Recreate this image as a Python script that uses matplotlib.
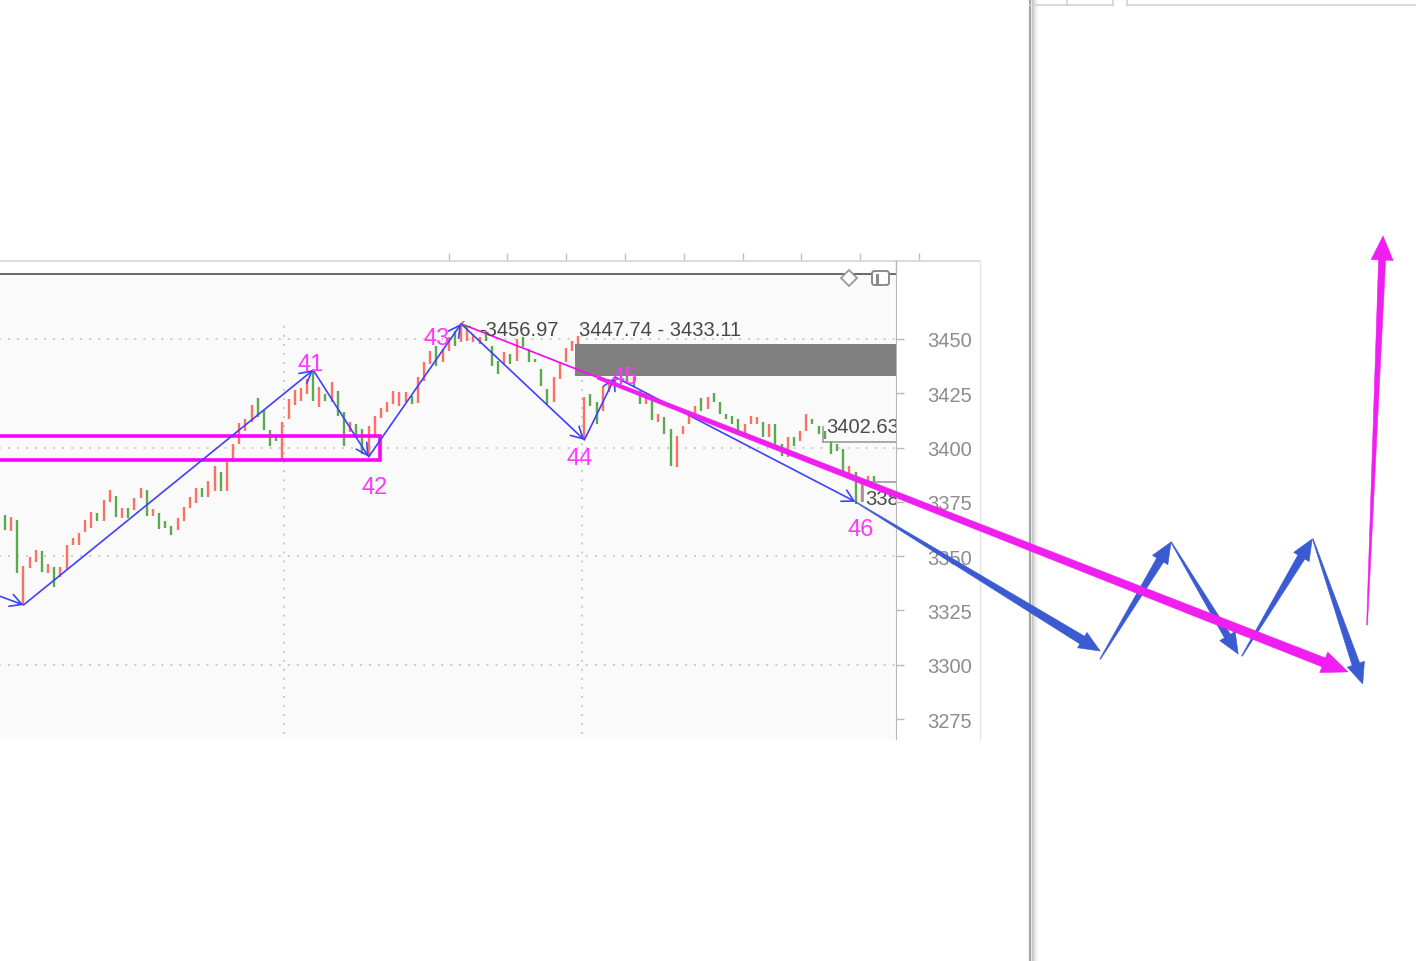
import numpy as np
import matplotlib
matplotlib.use("Agg")
import matplotlib.pyplot as plt
from matplotlib.patches import Rectangle, Polygon, FancyBboxPatch

plt.rcParams['font.family'] = ['Liberation Sans', 'DejaVu Sans']

W, H = 1416, 962

# ---- range bars (high / low per period), r = red bar, g = green bar ----
highs = [3369.0, 3368.1, 3366.7, 3345.4, 3349.6, 3352.8, 3352.4, 3346.4, 3344.9, 3344.9,
         3355.1, 3358.4, 3360.7, 3366.7, 3370.3, 3369.9, 3375.9, 3380.5, 3377.7, 3372.2,
         3372.2, 3376.8, 3381.4, 3380.5, 3371.7, 3369.9, 3366.2, 3363.9, 3367.6, 3372.6,
         3377.2, 3381.4, 3381.4, 3384.6, 3391.5, 3388.8, 3393.4, 3401.6, 3411.3, 3413.2,
         3419.6, 3422.8, 3417.3, 3408.1, 3405.3, 3411.8, 3422.4, 3426.5, 3427.4, 3431.6,
         3435.7, 3427.9, 3424.7, 3430.2, 3426.1, 3416.4, 3411.8, 3410.9, 3408.6, 3409.9,
         3414.5, 3418.2, 3421.0, 3426.1, 3425.6, 3425.6, 3423.8, 3432.5, 3439.4, 3444.5,
         3446.8, 3445.4, 3450.9, 3453.7, 3457.0, 3455.5, 3452.3, 3450.9, 3453.7, 3446.8,
         3439.9, 3444.0, 3443.1, 3450.0, 3450.9, 3445.4, 3440.8, 3436.2, 3427.0, 3432.5,
         3439.4, 3445.9, 3449.1, 3451.4, 3423.3, 3424.7, 3421.0, 3428.4, 3431.6, 3432.5,
         3433.0, 3433.0, 3432.5, 3426.1, 3424.7, 3422.4, 3415.5, 3414.1, 3408.6, 3405.3,
         3409.9, 3414.5, 3419.1, 3422.8, 3423.3, 3425.1, 3421.0, 3415.5, 3414.5, 3413.2,
         3410.9, 3414.5, 3414.1, 3411.8, 3410.9, 3410.9, 3401.6, 3404.9, 3404.9, 3407.6,
         3415.5, 3413.2, 3409.9, 3407.6, 3403.0, 3401.6, 3399.3, 3391.5, 3388.8, 3384.2,
         3386.9, 3386.9]
lows = [3362.0, 3361.6, 3342.2, 3327.5, 3344.5, 3347.3, 3342.7, 3342.2, 3335.8, 3340.4,
        3344.1, 3355.1, 3355.1, 3361.1, 3363.0, 3366.2, 3366.2, 3374.9, 3368.1, 3367.6,
        3367.6, 3371.3, 3376.8, 3368.5, 3368.5, 3362.5, 3363.0, 3359.7, 3362.0, 3366.2,
        3372.2, 3374.5, 3377.2, 3377.2, 3380.0, 3380.0, 3380.0, 3393.4, 3401.6, 3407.6,
        3411.8, 3414.1, 3408.1, 3400.7, 3403.0, 3394.7, 3413.2, 3419.6, 3421.5, 3424.7,
        3421.5, 3418.7, 3421.5, 3421.0, 3414.5, 3400.7, 3407.2, 3404.9, 3397.0, 3395.7,
        3405.3, 3413.6, 3416.4, 3420.1, 3419.1, 3421.0, 3420.1, 3420.5, 3430.7, 3438.5,
        3437.6, 3439.4, 3444.5, 3446.8, 3448.6, 3449.1, 3448.6, 3447.7, 3449.1, 3437.6,
        3433.9, 3438.5, 3438.5, 3439.9, 3446.3, 3439.4, 3439.4, 3428.4, 3420.1, 3421.0,
        3431.6, 3439.4, 3444.5, 3446.8, 3403.5, 3419.1, 3410.9, 3416.8, 3425.6, 3427.9,
        3429.3, 3429.3, 3427.9, 3420.1, 3420.1, 3412.7, 3411.8, 3406.3, 3391.5, 3391.1,
        3406.3, 3410.9, 3415.5, 3416.8, 3417.8, 3421.0, 3415.5, 3413.2, 3410.9, 3406.3,
        3406.3, 3410.9, 3410.9, 3404.9, 3404.9, 3401.6, 3396.1, 3395.7, 3400.7, 3403.0,
        3407.6, 3410.9, 3406.3, 3404.0, 3397.0, 3398.4, 3387.9, 3387.9, 3374.0, 3374.9,
        3383.2, 3384.2]
colours = ("grgrrrgrgr" "rrrrrgrrgr" "grrgrgggrr" "rrgrrgrrrr" "rggggrrrrr"
           "grgrggrggr" "rrrrrrgrrr" "grrgrrrrgg" "grgrgggggr" "rrrrrggrrr"
           "ggggrgrggr" "rrrgrggggg" "rrrgrggrgr" "rggggggrgr" "rg")

# ---- zigzag pivots ----
piv_i = [-4, 3, 50, 59, 74, 94, 99, 138]
piv_p = [3334.9, 3327.5, 3435.7, 3395.7, 3456.97, 3403.5, 3432.5, 3375.0]
piv_lab = ['', '', '41', '42', '43', '44', '45', '46']

price_ticks = [3275, 3300, 3325, 3350, 3375, 3400, 3425, 3450]
grid_prices = [3300, 3350, 3400, 3450]
grid_bars = [45.3, 93.6]
time_ticks = [72.0, 81.5, 91.0, 100.6, 110.2, 119.7, 129.2, 138.7, 148.3]

zone_hi, zone_lo, zone_from = 3447.74, 3433.11, 92.5
pink_hi, pink_lo, pink_to = 3405.3, 3394.3, 60.8
tag_a, tag_a_from = 3402.63, 132.7
tag_b, tag_b_from = 3384.21, 139.2

# hand-drawn arrows (bar index, price)
blue_from = [(138, 3375.0), (177.7, 3302.6), (189.2, 3356.5), (200.7, 3304.0), (212.2, 3357.9)]
blue_to = [(177.7, 3306.3), (189.2, 3356.5), (200.1, 3304.9), (212.1, 3357.9), (220.3, 3291.1)]
pink_to_pt = (217.9, 3296.7)
pink_up_from, pink_up_to = (221.0, 3318.3), (223.6, 3497.4)

RED, GREEN = '#ff7064', '#58aa4a'
MAG = '#ff00ff'
ZZ = '#4040ff'
SK_BLUE, SK_PINK = '#3b5bd3', '#f01ef0'

fig = plt.figure(figsize=(W / 100, H / 100), dpi=100)
fig.patch.set_facecolor('white')

ax = fig.add_axes([0, (H - 740) / H, 896 / W, (740 - 275) / H], zorder=1)
ax.set_facecolor('#fafafa')
ax.set_xlim(-0.811, 144.57)
ax.set_ylim(3265.8, 3479.9)

# grid
ax.hlines(grid_prices, -1, 146, colors='#c4c4c4', lw=1.3, linestyles=(0, (1, 4)), zorder=1)
ax.vlines(grid_bars, 3260, 3459, colors='#c4c4c4', lw=1.3, linestyles=(0, (1, 4)), zorder=1)

# bars
x = np.arange(len(highs))
cols = [RED if c == 'r' else GREEN for c in colours]
ax.vlines(x, lows, highs, colors=cols, lw=1.7, zorder=2)

# supply zone and labels
ax.add_patch(Rectangle((zone_from, zone_lo), 60, zone_hi - zone_lo, fc='#808080', ec='none', zorder=3))
ax.annotate(f'{zone_hi:.2f} - {zone_lo:.2f}', xy=(zone_from, zone_hi), xytext=(4, 14),
            textcoords='offset pixels', ha='left', va='center', fontsize=14.5, color='#474747', zorder=6)

# pink rectangle
ax.add_patch(Rectangle((-6, pink_lo), pink_to + 6, pink_hi - pink_lo, fc='none', ec=MAG, lw=2.6, zorder=4))

# price tags (clipped at the price axis)
ax.plot([tag_a_from, 150], [tag_a, tag_a], color='#9a9a9a', lw=1.2, zorder=3)
ax.plot([tag_a_from, tag_a_from], [tag_a, tag_a + 7], color='#9a9a9a', lw=1.2, zorder=3)
ta = ax.text(tag_a_from + 0.6, tag_a + 7, f'{tag_a:.2f}', ha='left', va='center', fontsize=14.5,
             color='#4a4a4a', zorder=6, clip_on=True)
ax.plot([tag_b_from, 150], [tag_b, tag_b], color='#9a9a9a', lw=1.2, zorder=3)
ax.plot([tag_b_from, tag_b_from], [tag_b, tag_b - 9], color='#9a9a9a', lw=1.2, zorder=3)
tb = ax.text(tag_b_from + 0.45, tag_b - 7.5, f'{tag_b:.0f}', ha='left', va='center', fontsize=14.5,
             color='#4a4a4a', zorder=6, clip_on=True)
for t in (ta, tb):
    t.set_clip_path(ax.patch)

# zigzag with open arrow heads
for k in range(1, len(piv_i)):
    ax.annotate('', xy=(piv_i[k], piv_p[k]), xytext=(piv_i[k - 1], piv_p[k - 1]),
                arrowprops=dict(arrowstyle='->,head_length=0.55,head_width=0.3', color=ZZ, lw=1.2,
                                shrinkA=0, shrinkB=0, mutation_scale=15), zorder=5)

label_off = {'41': (-3, 6), '42': (6, -30), '43': (-24, -14), '44': (-5, -18), '45': (9, 0), '46': (5, -27)}
for i, p, lab in zip(piv_i, piv_p, piv_lab):
    if lab:
        ax.annotate(lab, xy=(i, p), xytext=label_off[lab], textcoords='offset pixels',
                    ha='center', va='center', fontsize=17, color='#ff38ff', zorder=7)

# pivot 43 price
ax.annotate(f'-{piv_p[4]:.2f}', xy=(piv_i[4], piv_p[4]), xytext=(18, -6), textcoords='offset pixels',
            ha='left', va='center', fontsize=14.5, color='#474747', zorder=6)
ax.annotate('ᓚ', xy=(piv_i[4], piv_p[4]), xytext=(5, 1), textcoords='offset pixels',
            ha='center', va='center', fontsize=9, color='#666666', zorder=6,
            family=['DejaVu Sans', 'Noto Sans'])

# thin pink trend line from pivot 43
slope = (pink_to_pt[1] - piv_p[4]) / (pink_to_pt[0] - piv_i[4])
mid_i = 96.2
mid_p = piv_p[4] + slope * (mid_i - piv_i[4])
ax.plot([piv_i[4], mid_i], [piv_p[4], mid_p], color=MAG, lw=1.2, zorder=5)

# axis styling
for s in ['left', 'bottom']:
    ax.spines[s].set_visible(False)
ax.spines['top'].set_color('#5c5c5c')
ax.spines['top'].set_linewidth(1.3)
ax.spines['right'].set_color('#b8b8b8')
ax.set_xticks([])
ax.yaxis.tick_right()
ax.set_yticks(price_ticks)
ax.tick_params(axis='y', direction='out', length=5.5, width=1, color='#b8b8b8', pad=17,
               labelsize=14.5, labelcolor='#8c8c8c')

# time ticks above the pane
ax.vlines(time_ticks, 3485.9, 3489.4, colors='#c0c0c0', lw=1, clip_on=False)

# ---- overlay in pixel coordinates ----
ov = fig.add_axes([0, 0, 1, 1], zorder=5)
ov.set_xlim(0, W)
ov.set_ylim(H, 0)
ov.axis('off')

ov.plot([0, 980], [262, 262], color='#d6d6d6', lw=1.2, zorder=1)
ov.plot([896, 896], [262, 275], color='#b8b8b8', lw=1, zorder=1)
ov.plot([980, 980], [262, 740], color='#e4e4e4', lw=1, zorder=1)

# separator with shadow
ov.plot([1030, 1030], [0, H], color='#a5a5a5', lw=1.6, zorder=1)
for k, g in enumerate(['#c2c2c2', '#d2d2d2', '#dfdfdf', '#e9e9e9', '#f1f1f1', '#f7f7f7']):
    ov.plot([1031.5 + k, 1031.5 + k], [0, H], color=g, lw=1.0, zorder=0.9)

# top-right boxes
ov.plot([1030, 1113], [6, 6], color='#d2d2d2', lw=1.2)
ov.plot([1127, 1416], [6, 6], color='#d2d2d2', lw=1.2)
for xv in [1067, 1113, 1127]:
    ov.plot([xv, xv], [0, 6], color='#d2d2d2', lw=1.2)

# icons
ov.plot([849], [279], marker='D', ms=8, mfc='white', mec='#9a9a9a', mew=1.3, zorder=2)
ov.add_patch(FancyBboxPatch((872, 272), 17, 14, boxstyle='round,pad=0,rounding_size=2.5',
                            fc='white', ec='#8a8a8a', lw=1.4, zorder=2))
ov.plot([876.5, 876.5], [275.5, 283], color='#8a8a8a', lw=2.2, zorder=3)


def sketch_arrow(p0, p1, w0, w1, hl, hw, colour, z):
    s = ax.transData.transform(p0)
    t = ax.transData.transform(p1)
    u = (t - s) / np.hypot(*(t - s))
    n = np.array([-u[1], u[0]])
    b = t - u * hl
    pts = np.array([s + n * w0 / 2, b + n * w1 / 2, b + n * hw / 2, t,
                    b - n * hw / 2, b - n * w1 / 2, s - n * w0 / 2])
    ov.add_patch(Polygon(ov.transData.inverted().transform(pts), closed=True,
                         fc=colour, ec=colour, lw=0.4, zorder=z))


blue_w = [9, 8, 7, 8, 8]
for (a, b), w in zip(zip(blue_from, blue_to), blue_w):
    sketch_arrow(a, b, 0.8, w, 21, 18, SK_BLUE, 3)

sketch_arrow((mid_i, mid_p), pink_to_pt, 3.5, 9.5, 26, 22, SK_PINK, 4)
sketch_arrow(pink_up_from, pink_up_to, 0.8, 7, 24, 22, SK_PINK, 4)

fig.savefig('out.png', dpi=100, facecolor='white')
